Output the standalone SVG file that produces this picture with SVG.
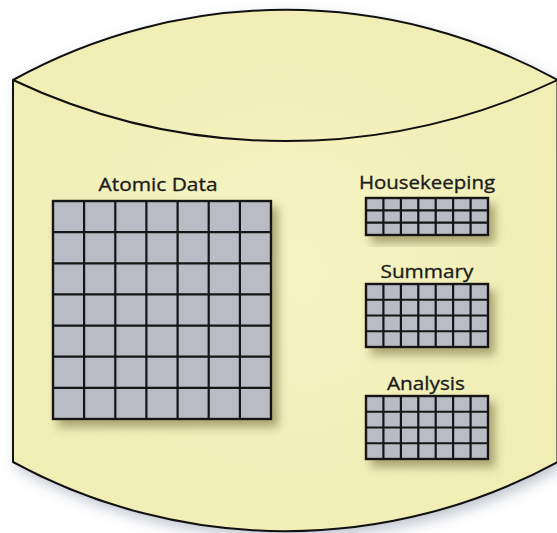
<svg xmlns="http://www.w3.org/2000/svg" width="557" height="533" viewBox="0 0 557 533">
<defs>
<filter id="cylShadow" x="-10%" y="-10%" width="120%" height="120%">
<feGaussianBlur in="SourceAlpha" stdDeviation="7"/>
<feOffset dx="4" dy="6" result="b"/>
<feFlood flood-color="#7d879c" flood-opacity="0.5"/>
<feComposite in2="b" operator="in"/>
<feMerge><feMergeNode/><feMergeNode in="SourceGraphic"/></feMerge>
</filter>
<filter id="gridShadow" x="-20%" y="-20%" width="150%" height="150%">
<feGaussianBlur in="SourceAlpha" stdDeviation="5"/>
<feOffset dx="6" dy="7" result="b"/>
<feFlood flood-color="#5e5a2a" flood-opacity="0.5"/>
<feComposite in2="b" operator="in"/>
<feMerge><feMergeNode/><feMergeNode in="SourceGraphic"/></feMerge>
</filter>
<radialGradient id="cylFill" cx="0.5" cy="0.5" r="0.6">
<stop offset="0" stop-color="#f5f3c2"/>
<stop offset="1" stop-color="#f0eeb4"/>
</radialGradient>
</defs>
<style>
.edge{stroke:#111;stroke-width:2;fill:none;stroke-linejoin:round}
.cell{fill:#b9bcc4;stroke:#151515;stroke-width:2.4}
.grid{stroke:#151515;stroke-width:2.2;fill:none}
.lbl{font-family:"Open Sans","Liberation Sans",sans-serif;font-size:19px;fill:#1c1c1c;stroke:#1c1c1c;stroke-width:0.35;text-anchor:middle}
</style>
<rect width="557" height="533" fill="#ffffff"/>
<g id="cylinder">
<path d="M13,80 A563,563 0 0 1 557.5,80 L557.5,462 A570,570 0 0 1 13,462 Z" fill="url(#cylFill)" filter="url(#cylShadow)"/>
<path class="edge" d="M13,80 A563,563 0 0 1 557.5,80 L557.5,462 A570,570 0 0 1 13,462 Z"/>
<path class="edge" d="M13,80 A637,637 0 0 0 557.5,80"/>
</g>
<g id="connectors"/>
<g id="atomic-data">
<rect class="cell" x="53" y="201" width="218" height="218" filter="url(#gridShadow)"/>
<path class="grid" d="M84.1,201V419M115.3,201V419M146.4,201V419M177.6,201V419M208.7,201V419M239.9,201V419M53,232.1H271M53,263.3H271M53,294.4H271M53,325.6H271M53,356.7H271M53,387.9H271"/>
<text class="lbl" x="158" y="191" textLength="119" lengthAdjust="spacingAndGlyphs">Atomic Data</text>
</g>
<g id="housekeeping">
<rect class="cell" x="366" y="198" width="122" height="37" filter="url(#gridShadow)"/>
<path class="grid" d="M383.4,198V235M400.9,198V235M418.3,198V235M435.7,198V235M453.1,198V235M470.6,198V235M366,210.3H488M366,222.7H488"/>
<text class="lbl" x="427" y="189" textLength="136" lengthAdjust="spacingAndGlyphs">Housekeeping</text>
</g>
<g id="summary">
<rect class="cell" x="366" y="284" width="122" height="63" filter="url(#gridShadow)"/>
<path class="grid" d="M383.4,284V347M400.9,284V347M418.3,284V347M435.7,284V347M453.1,284V347M470.6,284V347M366,299.75H488M366,315.5H488M366,331.25H488"/>
<text class="lbl" x="427" y="278" textLength="93" lengthAdjust="spacingAndGlyphs">Summary</text>
</g>
<g id="analysis">
<rect class="cell" x="366" y="396" width="122" height="63" filter="url(#gridShadow)"/>
<path class="grid" d="M383.4,396V459M400.9,396V459M418.3,396V459M435.7,396V459M453.1,396V459M470.6,396V459M366,411.75H488M366,427.5H488M366,443.25H488"/>
<text class="lbl" x="426" y="390" textLength="78" lengthAdjust="spacingAndGlyphs">Analysis</text>
</g>
</svg>
